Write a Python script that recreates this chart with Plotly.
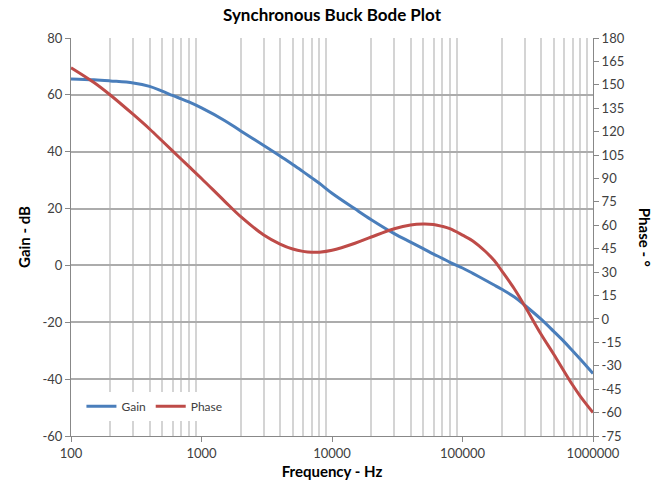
import plotly.graph_objects as go

FONT = "Lato, Carlito, Calibri, sans-serif"
GAIN_COLOR = "#4a7ebb"
PHASE_COLOR = "#be4b48"

freq = [100, 150, 200, 300, 400, 500, 600, 700, 800, 1000,
        1500, 2000, 3000, 4000, 5000, 6000, 7000, 8000, 10000,
        15000, 20000, 30000, 40000, 50000, 60000, 70000, 80000, 100000,
        120000, 150000, 175000, 200000, 250000, 300000, 400000, 500000, 600000,
        700000, 800000, 900000, 1000000]
gain_db = [65.6, 65.3, 64.9, 64.2, 63.0, 61.3, 59.8, 58.6, 57.5, 55.4,
           51.0, 47.3, 42.2, 38.5, 35.5, 33.0, 30.8, 28.9, 25.4,
           19.9, 16.1, 11.2, 8.2, 5.9, 4.0, 2.5, 1.1, -0.9,
           -2.8, -5.2, -6.9, -8.4, -11.1, -14.0, -18.9, -23.2, -26.8,
           -30.1, -33.0, -35.6, -38.0]
phase_deg = [161.0, 151.5, 143.5, 131.0, 121.7, 114.0, 107.7, 102.3, 97.7, 90.0,
             75.5, 65.5, 53.8, 48.0, 44.8, 43.3, 42.7, 42.8, 44.0,
             48.5, 52.5, 57.8, 60.2, 60.8, 60.5, 59.3, 57.8, 53.7,
             50.0, 43.2, 37.4, 30.8, 19.2, 8.3, -9.8, -22.6, -33.5,
             -42.5, -49.6, -55.2, -60.0]

decades = [100, 1000, 10000, 100000, 1000000]
minor_vals = [m * d for d in decades[:-1] for m in range(2, 10)]
gain_ticks = list(range(-60, 81, 20))
phase_ticks = list(range(-75, 181, 15))

fig = go.Figure()
fig.add_trace(go.Scatter(
    x=freq, y=gain_db, name="Gain", mode="lines",
    line=dict(color=GAIN_COLOR, width=3, shape="spline", smoothing=1),
))
fig.add_trace(go.Scatter(
    x=freq, y=phase_deg, name="Phase", mode="lines", yaxis="y2",
    line=dict(color=PHASE_COLOR, width=3, shape="spline", smoothing=1),
))

fig.update_layout(
    width=668, height=491,
    margin=dict(l=71, r=75, t=38, b=55),
    paper_bgcolor="white", plot_bgcolor="white",
    font=dict(family=FONT, size=13, color="#404040"),
    title=dict(text="<b>Synchronous Buck Bode Plot</b>", x=0.5, xref="paper",
               y=0.97, yanchor="middle", font=dict(size=17, color="#000000")),
    xaxis=dict(
        type="log", range=[2, 6],
        tickvals=decades, ticktext=[str(d) for d in decades],
        ticks="outside", ticklen=5, tickcolor="#888888",
        showgrid=False, showline=True, linecolor="#888888", linewidth=1,
        minor=dict(tickvals=minor_vals, showgrid=True, gridcolor="#d4d4d4",
                   gridwidth=1.5, ticks=""),
        title=dict(text="<b>Frequency - Hz</b>", font=dict(size=15, color="#000000"),
                   standoff=6),
        zeroline=False, automargin=False,
    ),
    yaxis=dict(
        range=[-60, 80], tickvals=gain_ticks, ticktext=[str(v) for v in gain_ticks],
        ticks="outside", ticklen=5, tickcolor="#888888",
        showgrid=True, gridcolor="#acacac", gridwidth=1.5,
        showline=True, linecolor="#888888", linewidth=1,
        zeroline=False, automargin=False,
        title=dict(text="<b>Gain - dB</b>", font=dict(size=15, color="#000000"),
                   standoff=8),
    ),
    yaxis2=dict(
        range=[-75, 180], tickvals=phase_ticks, ticktext=[str(v) for v in phase_ticks],
        overlaying="y", side="right",
        ticks="outside", ticklen=5, tickcolor="#888888",
        showgrid=False, showline=True, linecolor="#888888", linewidth=1,
        zeroline=False, automargin=False,
    ),
    legend=dict(
        orientation="h", x=0.02, y=0.075, xanchor="left", yanchor="middle",
        bgcolor="white", font=dict(size=12, color="#404040"),
        itemwidth=30, tracegroupgap=0,
    ),
    showlegend=True,
)

fig.add_annotation(
    text="<b>Phase - °</b>", textangle=90,
    xref="paper", yref="paper", x=1.10, y=0.5,
    xanchor="center", yanchor="middle", showarrow=False,
    font=dict(family=FONT, size=15, color="#000000"),
)

fig.write_html("out.html", config={"displayModeBar": False},
               post_script="document.body.style.margin='0';")
